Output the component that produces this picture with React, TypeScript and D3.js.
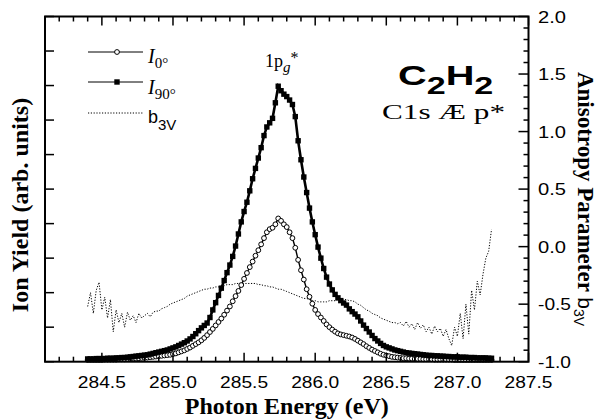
import React from "react";
import * as d3 from "d3";

const energy = [
  284.40,284.42,284.44,284.46,284.48,284.50,284.52,284.54,284.56,284.58,
  284.60,284.62,284.64,284.66,284.68,284.70,284.72,284.74,284.76,284.78,
  284.80,284.82,284.84,284.86,284.88,284.90,284.92,284.94,284.96,284.98,
  285.00,285.02,285.04,285.06,285.08,285.10,285.12,285.14,285.16,285.18,
  285.20,285.22,285.24,285.26,285.28,285.30,285.32,285.34,285.36,285.38,
  285.40,285.42,285.44,285.46,285.48,285.50,285.52,285.54,285.56,285.58,
  285.60,285.62,285.64,285.66,285.68,285.70,285.72,285.74,285.76,285.78,
  285.80,285.82,285.84,285.86,285.88,285.90,285.92,285.94,285.96,285.98,
  286.00,286.02,286.04,286.06,286.08,286.10,286.12,286.14,286.16,286.18,
  286.20,286.22,286.24,286.26,286.28,286.30,286.32,286.34,286.36,286.38,
  286.40,286.42,286.44,286.46,286.48,286.50,286.52,286.54,286.56,286.58,
  286.60,286.62,286.64,286.66,286.68,286.70,286.72,286.74,286.76,286.78,
  286.80,286.82,286.84,286.86,286.88,286.90,286.92,286.94,286.96,286.98,
  287.00,287.02,287.04,287.06,287.08,287.10,287.12,287.14,287.16,287.18,
  287.20,287.22,287.24,
];

const i90 = [
  0.08,0.08,0.08,0.09,0.09,0.09,0.09,0.10,0.10,0.10,
  0.11,0.11,0.12,0.12,0.13,0.14,0.15,0.16,0.17,0.18,
  0.19,0.20,0.22,0.24,0.26,0.28,0.30,0.32,0.34,0.37,
  0.40,0.43,0.47,0.51,0.55,0.60,0.66,0.73,0.81,0.90,
  0.98,1.05,1.12,1.28,1.50,1.71,1.92,2.13,2.35,2.58,
  2.80,3.05,3.35,3.70,4.05,4.35,4.62,4.95,5.30,5.60,
  5.90,6.20,6.55,6.80,6.92,7.05,7.50,7.98,7.85,7.75,
  7.68,7.58,7.45,7.10,6.40,5.85,5.35,4.90,4.45,4.05,
  3.68,3.32,3.00,2.70,2.45,2.25,2.08,1.95,1.85,1.77,
  1.70,1.64,1.53,1.45,1.38,1.30,1.18,1.06,0.96,0.86,
  0.76,0.67,0.60,0.53,0.47,0.43,0.40,0.37,0.34,0.32,
  0.30,0.28,0.26,0.25,0.24,0.23,0.22,0.21,0.20,0.19,
  0.18,0.18,0.17,0.17,0.16,0.16,0.15,0.15,0.14,0.14,
  0.14,0.13,0.13,0.13,0.12,0.12,0.12,0.11,0.11,0.11,
  0.11,0.10,0.10,
];

const i0 = [
  0.05,0.05,0.05,0.05,0.05,0.05,0.06,0.06,0.06,0.06,
  0.06,0.07,0.07,0.07,0.08,0.08,0.09,0.09,0.10,0.11,
  0.11,0.12,0.13,0.14,0.15,0.16,0.17,0.18,0.19,0.20,
  0.22,0.24,0.27,0.30,0.33,0.37,0.41,0.46,0.51,0.56,
  0.62,0.69,0.77,0.86,0.95,1.05,1.15,1.25,1.36,1.48,
  1.60,1.75,1.90,2.05,2.22,2.40,2.57,2.74,2.90,3.07,
  3.23,3.40,3.58,3.75,3.84,3.88,3.98,4.15,4.08,3.98,
  3.90,3.75,3.58,3.30,2.95,2.65,2.38,2.10,1.88,1.68,
  1.50,1.38,1.28,1.18,1.08,1.00,0.93,0.87,0.82,0.79,
  0.77,0.75,0.73,0.70,0.66,0.61,0.56,0.51,0.45,0.40,
  0.35,0.31,0.27,0.23,0.20,0.18,0.16,0.14,0.13,0.12,
  0.11,0.10,0.10,0.09,0.09,0.08,0.08,0.08,0.07,0.07,
  0.07,0.07,0.06,0.06,0.06,0.06,0.06,0.06,0.06,0.05,
  0.05,0.05,0.05,0.05,0.05,0.05,0.05,0.05,0.05,0.05,
  0.05,0.05,0.05,
];

const b3v = [
  -0.52,-0.40,-0.58,-0.38,-0.31,-0.55,-0.44,-0.62,-0.46,-0.74,
  -0.55,-0.66,-0.58,-0.70,-0.57,-0.64,-0.60,-0.66,-0.58,-0.62,
  -0.60,-0.58,-0.61,-0.57,-0.56,-0.56,-0.54,-0.53,-0.52,-0.50,
  -0.49,-0.48,-0.47,-0.46,-0.45,-0.43,-0.42,-0.41,-0.40,-0.39,
  -0.38,-0.37,-0.37,-0.36,-0.36,-0.35,-0.35,-0.34,-0.34,-0.33,
  -0.33,-0.33,-0.32,-0.32,-0.32,-0.32,-0.32,-0.32,-0.32,-0.32,
  -0.33,-0.33,-0.34,-0.34,-0.35,-0.35,-0.36,-0.37,-0.37,-0.38,
  -0.39,-0.40,-0.41,-0.42,-0.43,-0.44,-0.45,-0.45,-0.46,-0.47,
  -0.47,-0.48,-0.48,-0.48,-0.48,-0.47,-0.47,-0.47,-0.46,-0.46,
  -0.46,-0.46,-0.47,-0.47,-0.48,-0.50,-0.51,-0.53,-0.55,-0.56,
  -0.58,-0.59,-0.60,-0.62,-0.63,-0.64,-0.65,-0.66,-0.66,-0.67,
  -0.66,-0.69,-0.65,-0.70,-0.67,-0.72,-0.66,-0.71,-0.68,-0.74,
  -0.70,-0.76,-0.69,-0.74,-0.71,-0.78,-0.72,-0.80,-0.86,-0.70,
  -0.78,-0.58,-0.80,-0.50,-0.76,-0.38,-0.55,-0.30,-0.42,-0.24,
  -0.10,-0.04,0.15,
];

const xTickLabels = [284.5, 285.0, 285.5, 286.0, 286.5, 287.0, 287.5];
const rightTickLabels = [2.0, 1.5, 1.0, 0.5, 0.0, -0.5, -1.0];
const leftTicks = [0, 1, 2, 3, 4, 5, 6, 7, 8, 9, 10];

const L = 45, R = 528.5, T = 16.5, B = 361.7;

const x = d3.scaleLinear().domain([284.1, 287.5]).range([L, R]);
const yL = d3.scaleLinear().domain([0, 10]).range([B, T]);
const yR = d3.scaleLinear().domain([-1, 2]).range([B, T]);

const SERIF = "'Liberation Serif', 'Times New Roman', serif";
const SANS = "'Liberation Sans', Arial, sans-serif";

const SQ = 5.4;

export default function App() {
  const lineL = (vals: number[]) =>
    d3.line<number>().x((_, i) => x(energy[i])).y((v) => yL(v))(vals) || "";
  const lineR = d3.line<number>().x((_, i) => x(energy[i])).y((v) => yR(v))(b3v) || "";

  const minorX = d3.range(2841, 2876).map((v) => v / 10);
  const minorR = d3.range(-10, 21).map((v) => v / 10);
  const isMajor = (v: number) => Math.abs(v * 2 - Math.round(v * 2)) < 1e-6;

  return (
    <svg width={599} height={419} style={{ position: "absolute", left: 0, top: 0, background: "#fff" }}>
      {/* b3V dotted */}
      <path d={lineR} fill="none" stroke="#000" strokeWidth={1} strokeDasharray="1.2,1.6" />
      {/* I0 */}
      <path d={lineL(i0)} fill="none" stroke="#000" strokeWidth={1.4} />
      {i0.map((v, i) => (
        <circle key={"c" + i} cx={x(energy[i])} cy={yL(v)} r={2.4} fill="#fff" stroke="#000" strokeWidth={1} />
      ))}
      {/* I90 */}
      <path d={lineL(i90)} fill="none" stroke="#000" strokeWidth={2.6} />
      {i90.map((v, i) => (
        <rect key={"s" + i} x={x(energy[i]) - SQ / 2} y={yL(v) - SQ / 2} width={SQ} height={SQ} fill="#000" />
      ))}

      {/* frame */}
      <rect x={L} y={T} width={R - L} height={B - T} fill="none" stroke="#000" strokeWidth={2} />

      {/* bottom & top ticks */}
      {minorX.map((v) => {
        const len = isMajor(v) ? 9 : 5;
        return (
          <g key={"tx" + v}>
            <line x1={x(v)} x2={x(v)} y1={B} y2={B - len} stroke="#000" strokeWidth={1.5} />
            <line x1={x(v)} x2={x(v)} y1={T} y2={T + len} stroke="#000" strokeWidth={1.5} />
          </g>
        );
      })}
      {/* left ticks */}
      {leftTicks.map((v) => (
        <line key={"tl" + v} x1={L} x2={L + 9} y1={yL(v)} y2={yL(v)} stroke="#000" strokeWidth={1.5} />
      ))}
      {/* right ticks */}
      {minorR.map((v) => {
        const len = isMajor(v) ? 10 : 5;
        return <line key={"tr" + v} x1={R} x2={R - len} y1={yR(v)} y2={yR(v)} stroke="#000" strokeWidth={1.5} />;
      })}

      {/* bottom tick labels */}
      {xTickLabels.map((v) => (
        <text key={"lx" + v} x={x(v)} y={388} textAnchor="middle" fontFamily={SANS} fontSize={17}
          textLength={48} lengthAdjust="spacingAndGlyphs">
          {v.toFixed(1)}
        </text>
      ))}
      {/* right tick labels */}
      {rightTickLabels.map((v) => (
        <text key={"lr" + v} x={538} y={yR(v) + 6} fontFamily={SANS} fontSize={17}
          textLength={v < 0 ? 33 : 28} lengthAdjust="spacingAndGlyphs">
          {v.toFixed(1)}
        </text>
      ))}

      {/* axis titles */}
      <text x={(L + R) / 2} y={414} textAnchor="middle" fontFamily={SERIF} fontWeight="bold" fontSize={24}>
        Photon Energy (eV)
      </text>
      <text transform="translate(28,205) rotate(-90)" textAnchor="middle" fontFamily={SERIF} fontWeight="bold" fontSize={24}>
        Ion Yield (arb. units)
      </text>
      <text transform="translate(578,199) rotate(90)" textAnchor="middle" fontFamily={SERIF} fontWeight="bold" fontSize={23}>
        Anisotropy Parameter{" "}
        <tspan fontFamily={SANS} fontWeight="normal" fontSize={21}>b</tspan>
        <tspan fontFamily={SANS} fontWeight="normal" fontSize={14} dy={4}>3V</tspan>
      </text>

      {/* legend */}
      <line x1={88} x2={143} y1={52} y2={52} stroke="#000" strokeWidth={1} />
      <circle cx={117} cy={52} r={2.4} fill="#fff" stroke="#000" strokeWidth={1} />
      <text x={148} y={63} fontFamily={SERIF} fontSize={20}>
        <tspan fontStyle="italic">I</tspan>
        <tspan fontSize={15} dy={5}>0°</tspan>
      </text>
      <line x1={88} x2={143} y1={82} y2={82} stroke="#000" strokeWidth={1} />
      <rect x={117 - SQ / 2} y={82 - SQ / 2} width={SQ} height={SQ} fill="#000" />
      <text x={148} y={94} fontFamily={SERIF} fontSize={20}>
        <tspan fontStyle="italic">I</tspan>
        <tspan fontSize={15} dy={5}>90°</tspan>
      </text>
      <line x1={88} x2={143} y1={113} y2={113} stroke="#000" strokeWidth={1} strokeDasharray="1.2,1.6" />
      <text x={148} y={123} fontFamily={SANS} fontSize={18}>
        b<tspan fontSize={15} dy={7}>3V</tspan>
      </text>

      {/* peak label */}
      <text x={265} y={67} fontFamily={SERIF} fontSize={18}>
        1p<tspan fontStyle="italic" fontSize={15} dy={5}>g</tspan>
        <tspan fontSize={16} dy={-9}>*</tspan>
      </text>

      {/* molecule label */}
      <g transform="translate(398,85) scale(1.42,1)">
        <text x={0} y={0} fontFamily={SANS} fontWeight="bold" fontSize={28}>
          C<tspan fontSize={24} dy={9}>2</tspan>
          <tspan dy={-9}>H</tspan>
          <tspan fontSize={24} dy={9}>2</tspan>
        </text>
      </g>
      <text x={382} y={119} fontFamily={SERIF} fontSize={21} textLength={123} lengthAdjust="spacingAndGlyphs">
        C1s Æ p*
      </text>
    </svg>
  );
}
